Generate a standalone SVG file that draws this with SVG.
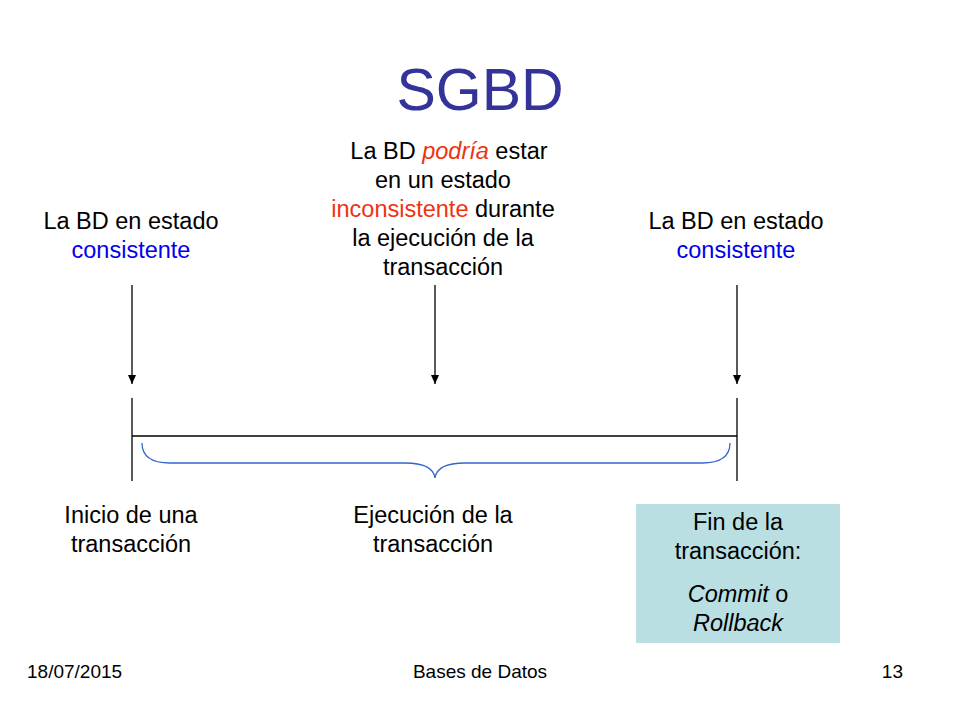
<svg xmlns="http://www.w3.org/2000/svg" width="960" height="720" viewBox="0 0 960 720">
<defs>
<style>
text{font-family:"Liberation Sans",Arial,sans-serif;fill:#000}
.t{font-size:23.5px;text-anchor:middle}
.b{fill:#0000ee}
.r{fill:#ee3311}
.f{font-size:19px}
.ln{stroke:#000;stroke-width:1.3;fill:none}
</style>
<marker id="ah" markerWidth="10" markerHeight="10" refX="9" refY="5" orient="auto" markerUnits="userSpaceOnUse"><path d="M0,1 L9,5 L0,9 Z" fill="#000"/></marker>
</defs>
<rect width="960" height="720" fill="#fff"/>
<text x="480" y="110" style="font-size:59px;fill:#333399" text-anchor="middle">SGBD</text>
<g id="left-label"><text class="t" x="131" y="229">La BD en estado</text><text class="t b" x="131" y="258">consistente</text></g>
<g id="mid-label"><text class="t" x="449" y="159">La BD <tspan class="r" font-style="italic">podría</tspan> estar</text><text class="t" x="443" y="188">en un estado</text><text class="t" x="443" y="217"><tspan class="r">inconsistente</tspan> durante</text><text class="t" x="443" y="246">la ejecución de la</text><text class="t" x="443" y="275">transacción</text></g>
<g id="right-label"><text class="t" x="736" y="229">La BD en estado</text><text class="t b" x="736" y="258">consistente</text></g>
<g id="connectors">
<line class="ln" x1="132" y1="285" x2="132" y2="384" marker-end="url(#ah)"/>
<line class="ln" x1="435" y1="285" x2="435" y2="384" marker-end="url(#ah)"/>
<line class="ln" x1="737" y1="285" x2="737" y2="384" marker-end="url(#ah)"/>
<line class="ln" x1="132" y1="398" x2="132" y2="481"/>
<line class="ln" x1="737" y1="398" x2="737" y2="481"/>
<line class="ln" x1="132" y1="436" x2="737" y2="436"/>
<path d="M142,443 Q142,463 170,463 L405,463 Q433,463 435,478 Q437,463 465,463 L702,463 Q730,463 730,443" fill="none" stroke="#3366cc" stroke-width="1.3"/>
</g>
<g id="start"><text class="t" x="131" y="523">Inicio de una</text><text class="t" x="131" y="552">transacción</text></g>
<g id="exec"><text class="t" x="433" y="523">Ejecución de la</text><text class="t" x="433" y="552">transacción</text></g>
<g id="end"><rect x="636" y="504" width="204" height="139" fill="#b9dfe2"/>
<text class="t" x="738" y="530">Fin de la</text><text class="t" x="738" y="559">transacción:</text>
<text class="t" x="738" y="602"><tspan font-style="italic">Commit</tspan> o</text><text class="t" x="738" y="631" font-style="italic">Rollback</text></g>
<text class="f" x="27" y="678">18/07/2015</text>
<text class="f" x="480" y="678" text-anchor="middle">Bases de Datos</text>
<text class="f" x="903" y="678" text-anchor="end">13</text>
</svg>
